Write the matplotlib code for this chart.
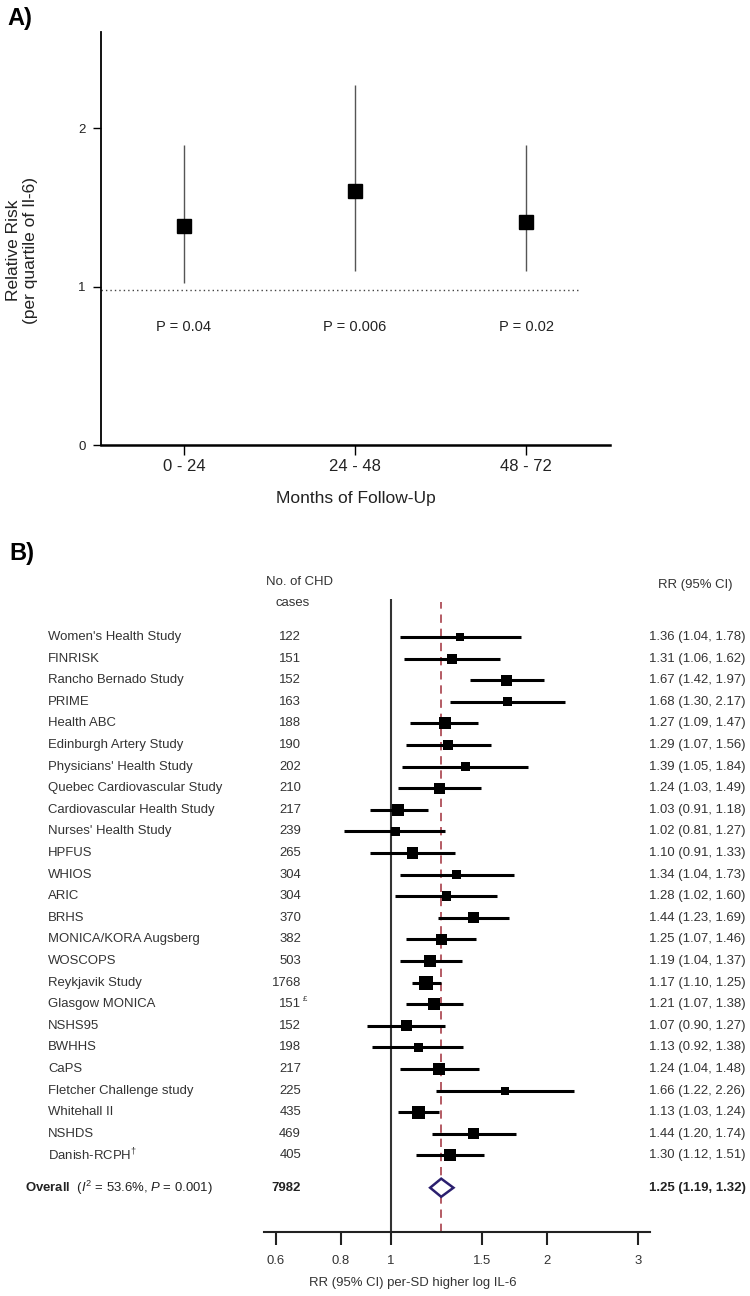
import matplotlib
matplotlib.use('Agg')
import matplotlib.pyplot as plt
from matplotlib import font_manager as fm
from matplotlib.transforms import blended_transform_factory
from matplotlib.patches import Polygon
import numpy as np

# ---------------- Panel A data ----------------
periods = ['0 - 24', '24 - 48', '48 - 72']
rr_a = [1.38, 1.60, 1.41]
lo_a = [1.02, 1.10, 1.10]
hi_a = [1.89, 2.27, 1.89]
p_labels = ['P = 0.04', 'P = 0.006', 'P = 0.02']
ref_a = 0.98
yticks_a = [0, 1, 2]

# ---------------- Panel B data ----------------
studies = ["Women's Health Study", "FINRISK", "Rancho Bernado Study", "PRIME",
           "Health ABC", "Edinburgh Artery Study", "Physicians' Health Study",
           "Quebec Cardiovascular Study", "Cardiovascular Health Study",
           "Nurses' Health Study", "HPFUS", "WHIOS", "ARIC", "BRHS",
           "MONICA/KORA Augsberg", "WOSCOPS", "Reykjavik Study", "Glasgow MONICA",
           "NSHS95", "BWHHS", "CaPS", "Fletcher Challenge study", "Whitehall II",
           "NSHDS", "Danish-RCPH"]
name_marks = {24: '†'}
cases = ['122', '151', '152', '163', '188', '190', '202', '210', '217', '239',
         '265', '304', '304', '370', '382', '503', '1768', '151', '152', '198',
         '217', '225', '435', '469', '405']
case_marks = {17: '£'}
rr_b = [1.36, 1.31, 1.67, 1.68, 1.27, 1.29, 1.39, 1.24, 1.03, 1.02, 1.10, 1.34,
        1.28, 1.44, 1.25, 1.19, 1.17, 1.21, 1.07, 1.13, 1.24, 1.66, 1.13, 1.44, 1.30]
lo_b = [1.04, 1.06, 1.42, 1.30, 1.09, 1.07, 1.05, 1.03, 0.91, 0.81, 0.91, 1.04,
        1.02, 1.23, 1.07, 1.04, 1.10, 1.07, 0.90, 0.92, 1.04, 1.22, 1.03, 1.20, 1.12]
hi_b = [1.78, 1.62, 1.97, 2.17, 1.47, 1.56, 1.84, 1.49, 1.18, 1.27, 1.33, 1.73,
        1.60, 1.69, 1.46, 1.37, 1.25, 1.38, 1.27, 1.38, 1.48, 2.26, 1.24, 1.74, 1.51]
weights = [2.2, 3.4, 4.2, 2.8, 5.0, 3.4, 2.8, 4.2, 5.0, 2.8, 4.2, 2.8, 3.4, 4.2,
           4.2, 5.0, 6.7, 5.0, 4.2, 2.8, 5.0, 2.2, 5.8, 4.2, 5.0]
overall_cases = '7982'
overall_rr, overall_lo, overall_hi = 1.25, 1.19, 1.32
xticks_b = [0.6, 0.8, 1, 1.5, 2, 3]
xtick_labels_b = ['0.6', '0.8', '1', '1.5', '2', '3']

# ---------------- fonts ----------------
avail = {f.name for f in fm.fontManager.ttflist}
AFONT = 'Liberation Sans' if 'Liberation Sans' in avail else 'DejaVu Sans'
if 'Liberation Sans Narrow' in avail:
    BFONT, BS = 'Liberation Sans Narrow', 1.0
else:
    BFONT, BS = AFONT, 0.82
plt.rcParams['font.family'] = [AFONT, 'DejaVu Sans']
plt.rcParams['mathtext.fontset'] = 'custom'
plt.rcParams['mathtext.rm'] = BFONT
plt.rcParams['mathtext.it'] = BFONT + ':italic'
plt.rcParams['mathtext.bf'] = BFONT + ':bold'

W, H = 750, 1296
fig = plt.figure(figsize=(W / 100, H / 100), dpi=100)


def fx(x):
    return x / W


def fy(y):
    return 1 - y / H


# ================= Panel A =================
axA = fig.add_axes([fx(101), fy(445), fx(610) - fx(101), fy(32) - fy(445)])
xa = np.arange(len(periods))
axA.set_xlim(-0.485, 2.49)
axA.set_ylim(0, 2.606)
axA.vlines(xa, lo_a, hi_a, color='#555555', lw=1.0, zorder=2)
axA.plot(xa, rr_a, 's', color='black', ms=10, zorder=3)
axA.plot([-0.485, 2.32], [ref_a, ref_a], color='#444444', lw=1.0,
         ls=(0, (1, 2.2)), zorder=1)
for xi, pl in zip(xa, p_labels):
    axA.text(xi, 0.745, pl, ha='center', va='center', fontsize=10.5,
             color='#222222')
for s in ['top', 'right']:
    axA.spines[s].set_visible(False)
axA.spines['left'].set_linewidth(1.3)
axA.spines['bottom'].set_linewidth(1.8)
axA.set_yticks(yticks_a)
axA.set_yticklabels([str(v) for v in yticks_a], fontsize=9.5, color='#222222')
axA.set_xticks(xa)
axA.set_xticklabels(periods, fontsize=12, color='#222222')
axA.tick_params(axis='y', direction='out', length=6, width=1.0, pad=5)
axA.tick_params(axis='x', direction='out', length=7, width=1.0, pad=3)
fig.text(fx(356), fy(499), 'Months of Follow-Up', ha='center', va='center',
         fontsize=12.5, color='#222222')
fig.text(fx(22), fy(250), 'Relative Risk\n(per quartile of Il-6)', rotation=90,
         ha='center', va='center', fontsize=12.5, color='#222222',
         linespacing=1.15)
fig.text(fx(7), fy(19), 'A)', ha='left', va='center', fontsize=17,
         fontweight='bold')

# ================= Panel B =================
axB = fig.add_axes([fx(264), fy(1232), fx(650) - fx(264), fy(599) - fy(1232)])
axB.set_xscale('log')
axB.set_xlim(0.5687, 3.162)
axB.set_ylim(27.55, -1.76)
rows = np.arange(len(studies))
overall_row = 25.5

axB.axvline(1, ymin=0, ymax=1, color='#333333', lw=1.5, zorder=1)
axB.axvline(overall_rr, ymin=0, ymax=0.995, color='#a8404a', lw=1.2,
            dashes=(5, 3.5), zorder=1)
axB.hlines(rows, lo_b, hi_b, color='black', lw=2.2, zorder=2)
side_px = 5.39 * np.sqrt(np.array(weights))
axB.scatter(rr_b, rows, marker='s', s=(side_px * 0.72) ** 2, color='black',
            linewidths=0, zorder=3)
dh = 0.42
diamond = Polygon([[overall_lo, overall_row], [overall_rr, overall_row - dh],
                   [overall_hi, overall_row], [overall_rr, overall_row + dh]],
                  closed=True, facecolor='white', edgecolor='#2b1f6e', lw=1.8,
                  zorder=4)
axB.add_patch(diamond)

for s in ['top', 'right', 'left']:
    axB.spines[s].set_visible(False)
axB.spines['bottom'].set_linewidth(1.5)
axB.spines['bottom'].set_color('#222222')
axB.set_yticks([])
axB.minorticks_off()
axB.set_xticks(xticks_b)
axB.set_xticklabels(xtick_labels_b, fontsize=11.5 * BS, color='#333333',
                    family=BFONT)
axB.tick_params(axis='x', which='both', direction='out', length=9.5, width=1.5,
                pad=7, color='#222222')
axB.tick_params(axis='x', which='minor', length=0)

tr = blended_transform_factory(fig.transFigure, axB.transData)
fsB = 11.5 * BS
txtc = '#333333'
for i in rows:
    axB.text(fx(48), i, studies[i] + ('$^{%s}$' % name_marks[i] if i in name_marks else ''),
             transform=tr, ha='left', va='center', fontsize=fsB, family=BFONT,
             color=txtc)
    axB.text(fx(301), i, cases[i], transform=tr, ha='right', va='center',
             fontsize=fsB, family=BFONT, color=txtc)
    if i in case_marks:
        axB.annotate(case_marks[i], xy=(fx(301), i), xycoords=tr,
                     xytext=(1.0, 3.0), textcoords='offset points',
                     ha='left', va='center', fontsize=fsB * 0.6,
                     family=BFONT, color=txtc)
    axB.text(fx(649), i, f'{rr_b[i]:.2f} ({lo_b[i]:.2f}, {hi_b[i]:.2f})',
             transform=tr, ha='left', va='center', fontsize=fsB, family=BFONT,
             color=txtc)

axB.text(fx(25), overall_row,
         r'$\mathbf{Overall}$  ($\mathit{I}^{2}$ = 53.6%, $\mathit{P}$ = 0.001)',
         transform=tr, ha='left', va='center', fontsize=fsB, family=BFONT,
         color='#222222')
axB.text(fx(301), overall_row, overall_cases, transform=tr, ha='right',
         va='center', fontsize=fsB, family=BFONT, fontweight='bold',
         color='#222222')
axB.text(fx(649), overall_row,
         f'{overall_rr:.2f} ({overall_lo:.2f}, {overall_hi:.2f})',
         transform=tr, ha='left', va='center', fontsize=fsB, family=BFONT,
         fontweight='bold', color='#222222')

fig.text(fx(299), fy(582), 'No. of CHD', ha='center', va='center',
         fontsize=fsB, family=BFONT, color=txtc)
fig.text(fx(293), fy(603), 'cases', ha='center', va='center',
         fontsize=fsB, family=BFONT, color=txtc)
fig.text(fx(658), fy(585), 'RR (95% CI)', ha='left', va='center',
         fontsize=fsB, family=BFONT, color=txtc)
fig.text(fx(413), fy(1283), 'RR (95% CI) per-SD higher log IL-6', ha='center',
         va='center', fontsize=fsB, family=BFONT, color=txtc)
fig.text(fx(9), fy(553), 'B)', ha='left', va='center', fontsize=17,
         fontweight='bold')

fig.savefig('out.png', dpi=100, facecolor='white')
